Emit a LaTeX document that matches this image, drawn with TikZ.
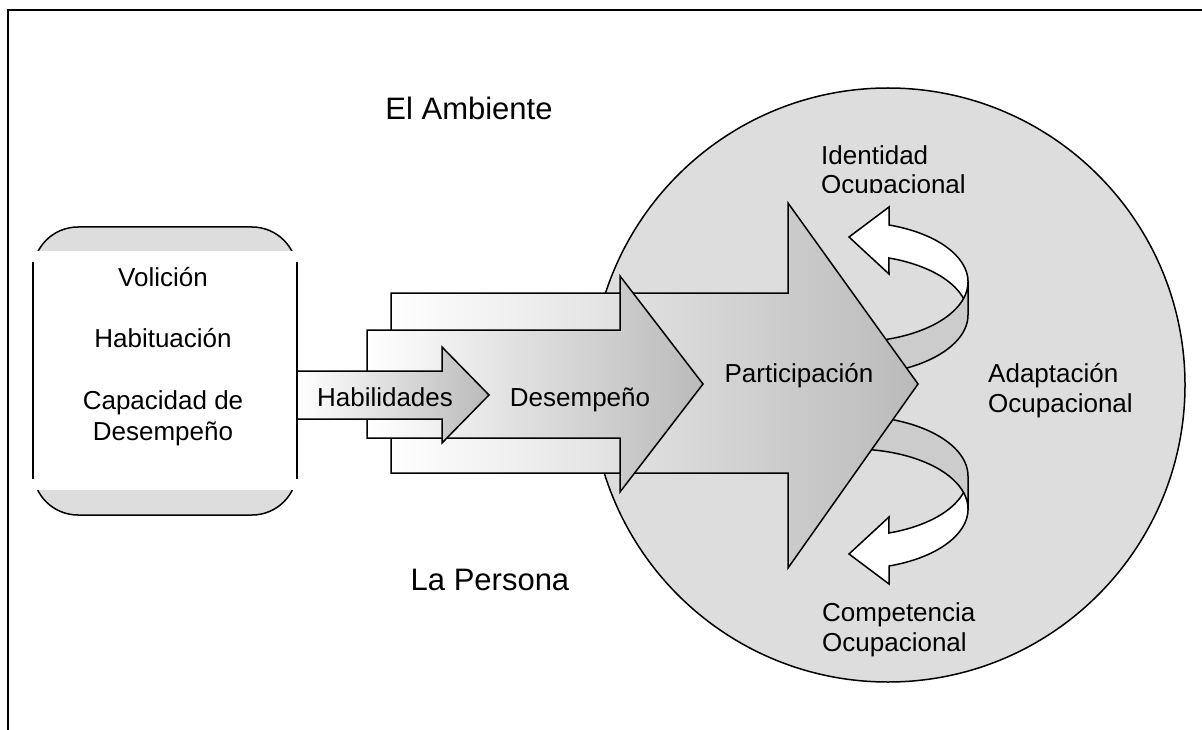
\documentclass[tikz,border=0pt]{standalone}
\usepackage{fontspec}
\setmainfont{Liberation Sans}
\usepackage{tikz}

\definecolor{circulogris}{gray}{0.867}
\definecolor{cajagris}{gray}{0.867}
\definecolor{cintagris}{gray}{0.80}
\definecolor{puntagris}{gray}{0.73}

\tikzset{
  linea/.style={draw=black, line width=1.5pt},
  flecha/.style={linea, left color=white, right color=puntagris},
  etiqueta/.style={inner sep=0pt, font=\fontsize{26}{30}\selectfont},
  titulo/.style={inner sep=0pt, font=\fontsize{31}{36}\selectfont}
}

% flecha curva (cinta) arriba a la derecha
\newcommand{\flechacurva}{%
  \draw[linea, fill=white] (889,225) arc[start angle=-71.8, end angle=0, x radius=115, y radius=60]
      -- (968,315) arc[start angle=0, end angle=-71.8, x radius=115, y radius=60]
      -- (889,274) -- (849,237) -- (889,207) -- cycle; % parte blanca
  \draw[linea, fill=cintagris] (968,282) arc[start angle=0, end angle=115, x radius=115, y radius=60]
      -- ++(0,33) arc[start angle=115, end angle=0, x radius=115, y radius=60] -- cycle; % parte gris
}

\begin{document}
\begin{tikzpicture}[x=1pt, y=-1pt]
    \useasboundingbox (0,0) rectangle (1202,730);
    \draw[line width=2pt] (8,730) -- (8,10.5) -- (1202,10.5); % marco

    \draw[linea, fill=circulogris] (888,385) circle[radius=297]; % el ambiente

    % la persona
    \draw[linea, fill=cajagris, rounded corners=45pt] (33,227) rectangle (297,515);
    \fill[white] (31,251) rectangle (299,490);
    \draw[linea] (33,262) -- (33,479);
    \draw[linea] (297,262) -- (297,479);

    \begin{scope}
        \flechacurva
    \end{scope}
    \begin{scope}[yshift=-791pt, yscale=-1]
        \flechacurva
    \end{scope}

    \draw[flecha] (391,293) -- (788,293) -- (788,203) -- (918,384) -- (788,568) -- (788,473) -- (391,473) -- cycle; % participacion
    \draw[flecha] (367,330) -- (620,330) -- (620,276) -- (703,384) -- (620,492) -- (620,438) -- (367,438) -- cycle; % desempeno
    \draw[flecha] (297,371) -- (442,371) -- (442,347) -- (489,395) -- (442,443) -- (442,419) -- (297,419) -- cycle; % habilidades

    \node[titulo, anchor=base] (ambiente) at (469,120) {El Ambiente};
    \node[titulo, anchor=base] (persona) at (490,590) {La Persona};

    \node[etiqueta, anchor=base] (volicion) at (163,286) {Volición};
    \node[etiqueta, anchor=base] (habituacion) at (163,347) {Habituación};
    \node[etiqueta, anchor=base] (capacidad) at (163,409) {Capacidad de};
    \node[etiqueta, anchor=base] (capdesemp) at (163,440) {Desempeño};

    \node[etiqueta, anchor=base] (habilidades) at (385,406) {Habilidades};
    \node[etiqueta, anchor=base] (desempeno) at (580,406) {Desempeño};
    \node[etiqueta, anchor=base] (participacion) at (799,382) {Participación};

    \node[etiqueta, anchor=base west] (adaptacion) at (988,382) {Adaptación};
    \node[etiqueta, anchor=base west] (adapocup) at (988,412) {Ocupacional};

    \begin{scope}
        \clip (800,130) rectangle (1000,193);
        \node[etiqueta, anchor=base west] (identidad) at (821,165) {Identidad};
        \node[etiqueta, anchor=base west] (idenocup) at (821,194) {Ocupacional};
    \end{scope}

    \node[etiqueta, anchor=base west] (competencia) at (822,621) {Competencia};
    \node[etiqueta, anchor=base west] (compocup) at (822,651) {Ocupacional};
\end{tikzpicture}
\end{document}
